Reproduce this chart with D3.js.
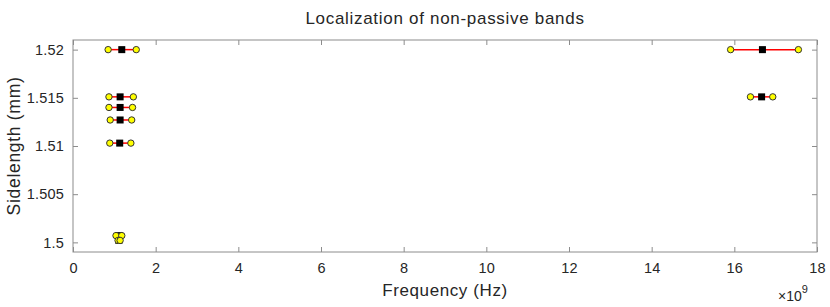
<!DOCTYPE html>
<html>
<head>
<meta charset="utf-8">
<script src="https://cdn.jsdelivr.net/npm/d3@7"></script>
<style>
  body { margin: 0; background: #fff; }
  text { font-family: "Liberation Sans", Arial, sans-serif; fill: #262626; }
</style>
</head>
<body>
<script>
// band data: sidelength (mm), band start / centre / end (GHz)
var sidelength = [1.52, 1.5151, 1.514, 1.5127, 1.5103, 1.5007, 1.5002, 1.52, 1.5151];
var fLow       = [0.85, 0.87, 0.87, 0.90, 0.89, 1.04, 1.09, 15.91, 16.39];
var fMid       = [1.18, 1.14, 1.14, 1.14, 1.13, 1.11, 1.11, 16.68, 16.66];
var fHigh      = [1.53, 1.46, 1.44, 1.42, 1.40, 1.18, 1.14, 17.55, 16.93];
var xTicks = [0, 2, 4, 6, 8, 10, 12, 14, 16, 18];
var yTicks = [1.5, 1.505, 1.51, 1.515, 1.52];

var width = 830, height = 307;
var plotL = 73, plotR = 817, plotT = 40, plotB = 252;

var svg = d3.select("body").append("svg")
    .attr("width", width)
    .attr("height", height);

var x = d3.scaleLinear().domain([0, 18]).range([plotL, plotR]);
var y = d3.scaleLinear().domain([1.499, 1.521]).range([plotB, plotT]);

// axes with inward ticks, box on
var axisColor = "#8c8c8c";
function styleAxis(g) {
    g.select(".domain").remove();
    g.selectAll(".tick line").attr("stroke", axisColor);
    g.selectAll(".tick text").attr("font-size", 14.5).attr("fill", "#262626")
        .attr("letter-spacing", 0.2);
}
svg.append("g")
    .attr("transform", "translate(0," + plotB + ")")
    .call(d3.axisBottom(x).tickValues(xTicks).tickSizeInner(-5).tickSizeOuter(0).tickPadding(11)
        .tickFormat(d3.format("d")))
    .call(styleAxis);
svg.append("g")
    .attr("transform", "translate(0," + plotT + ")")
    .call(d3.axisTop(x).tickValues(xTicks).tickSizeInner(-5).tickSizeOuter(0).tickFormat(""))
    .call(styleAxis);
svg.append("g")
    .attr("transform", "translate(" + plotL + ",0)")
    .call(d3.axisLeft(y).tickValues(yTicks).tickSizeInner(-5).tickSizeOuter(0).tickPadding(9)
        .tickFormat(d => String(+d.toFixed(3))))
    .call(styleAxis);
svg.append("g")
    .attr("transform", "translate(" + plotR + ",0)")
    .call(d3.axisRight(y).tickValues(yTicks).tickSizeInner(-5).tickSizeOuter(0).tickFormat(""))
    .call(styleAxis);

svg.append("rect")
    .attr("x", plotL).attr("y", plotT)
    .attr("width", plotR - plotL).attr("height", plotB - plotT)
    .attr("fill", "none").attr("stroke", axisColor).attr("stroke-width", 1);

// bands
var idx = d3.range(sidelength.length);
var bands = svg.append("g");
bands.selectAll("line").data(idx).enter().append("line")
    .attr("x1", i => x(fLow[i])).attr("x2", i => x(fHigh[i]))
    .attr("y1", i => y(sidelength[i])).attr("y2", i => y(sidelength[i]))
    .attr("stroke", "#ff0000").attr("stroke-width", 1.5);
bands.selectAll("rect.mid").data(idx).enter().append("rect")
    .attr("class", "mid")
    .attr("x", i => x(fMid[i]) - 3.5).attr("y", i => y(sidelength[i]) - 3.5)
    .attr("width", 7).attr("height", 7)
    .attr("fill", "#000");
var ends = [];
idx.forEach(i => { ends.push([fLow[i], sidelength[i]]); ends.push([fHigh[i], sidelength[i]]); });
bands.selectAll("circle").data(ends).enter().append("circle")
    .attr("cx", d => x(d[0])).attr("cy", d => y(d[1]))
    .attr("r", 3.2)
    .attr("fill", "#ffff00").attr("stroke", "#333").attr("stroke-width", 1);

// labels
svg.append("text")
    .attr("x", (plotL + plotR) / 2).attr("y", 24)
    .attr("text-anchor", "middle").attr("font-size", 17).attr("letter-spacing", 0.7)
    .attr("fill", "#000")
    .text("Localization of non-passive bands");
svg.append("text")
    .attr("x", (plotL + plotR) / 2).attr("y", 296)
    .attr("text-anchor", "middle").attr("font-size", 17).attr("letter-spacing", 0.6)
    .text("Frequency (Hz)");
svg.append("text")
    .attr("transform", "translate(20," + (plotT + plotB) / 2 + ") rotate(-90)")
    .attr("text-anchor", "middle").attr("font-size", 17.5).attr("letter-spacing", 0.7)
    .text("Sidelength (mm)");
var mult = svg.append("text")
    .attr("x", 778).attr("y", 301).attr("font-size", 14);
mult.append("tspan").text("\u00d710");
mult.append("tspan").attr("dy", -8).attr("font-size", 11).text("9");
</script>
</body>
</html>
